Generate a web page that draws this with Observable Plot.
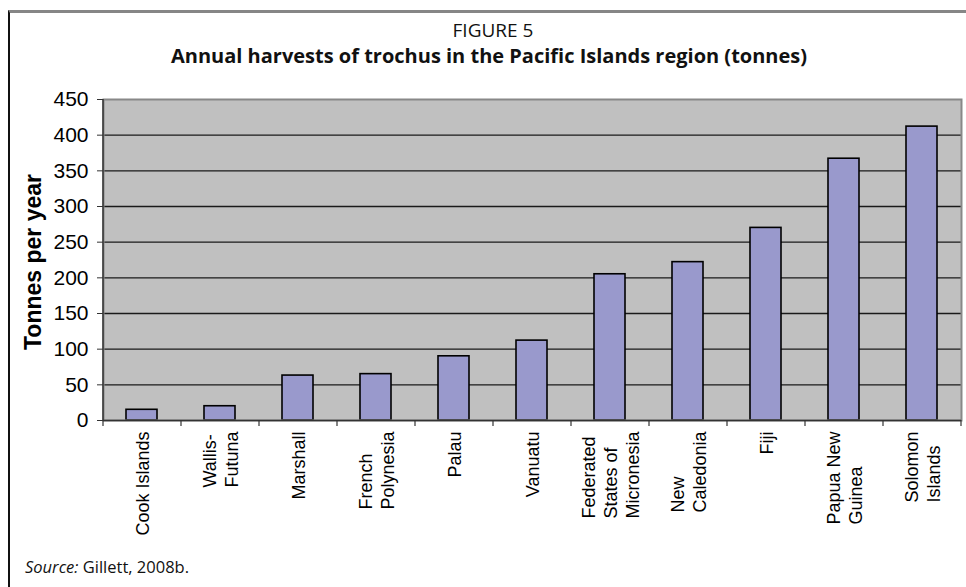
<!DOCTYPE html>
<html>
<head>
<meta charset="utf-8">
<script src="https://cdn.jsdelivr.net/npm/d3@7"></script>
<script src="https://cdn.jsdelivr.net/npm/@observablehq/plot@0.6"></script>
<style>
  html, body { margin: 0; padding: 0; background: #fff; }
  #page { position: relative; width: 966px; height: 587px; overflow: hidden; background: #fff; }
  #frame { position: absolute; left: 8px; top: 10px; right: 0; bottom: -5px;
           border-top: 3px solid #868686; border-left: 2px solid #111; }
  .fig { position: absolute; left: 10px; width: 958px; text-align: center; color: #111;
         font-family: "Open Sans", "Noto Sans", sans-serif; white-space: nowrap; }
  #fignum { top: 19px; font-size: 19px; line-height: 22px; left: 14px; }
  #title { top: 44px; font-size: 20px; line-height: 24px; font-weight: bold; }
  #source { position: absolute; left: 25px; top: 557px; font-family: "Open Sans", "Noto Sans", sans-serif;
            font-size: 16.5px; line-height: 20px; color: #111; }
  #chart { position: absolute; left: 0; top: 80px; }
</style>
</head>
<body>
<div id="page">
  <div id="frame"></div>
  <div class="fig" id="fignum">FIGURE 5</div>
  <div class="fig" id="title">Annual harvests of trochus in the Pacific Islands region (tonnes)</div>
  <div id="chart"></div>
  <div id="source"><i>Source:</i> Gillett, 2008b.</div>
</div>
<script>
// ---- data ----
const categories = ["Cook Islands", "Wallis-Futuna", "Marshall", "French Polynesia", "Palau", "Vanuatu",
  "Federated States of Micronesia", "New Caledonia", "Fiji", "Papua New Guinea", "Solomon Islands"];
const categoryLabels = ["Cook Islands", "Wallis-\nFutuna", "Marshall", "French\nPolynesia", "Palau", "Vanuatu",
  "Federated\nStates of\nMicronesia", "New\nCaledonia", "Fiji", "Papua New\nGuinea", "Solomon\nIslands"];
const harvestTonnes = [15, 20, 63, 65, 90, 112, 205, 222, 270, 367, 412];
const yTicks = [0, 50, 100, 150, 200, 250, 300, 350, 400, 450];
const yAxisLabel = "Tonnes per year";

const data = categories.map((c, i) => ({cat: c, label: categoryLabels[i], value: harvestTonnes[i]}));

// ---- layout ----
const W = 966, H = 470;
const mL = 103, mR = 5, mT = 19, mB = 130;
const step = (W - mL - mR) / categories.length;
const sans = "'Liberation Sans', Arial, sans-serif";

const ctx = document.createElement("canvas").getContext("2d");
ctx.font = `18px ${sans}`;
const maxLen = (s) => Math.max(...s.split("\n").map(l => ctx.measureText(l).width));

const labelMarks = data.map(d => Plot.text([d], {
  x: "cat", text: "label", frameAnchor: "bottom", rotate: -90,
  textAnchor: "start", lineAnchor: "middle", lineHeight: 1.2,
  dy: 11 + maxLen(d.label), fontSize: 18, fontFamily: sans, fill: "#000"
}));

const chart = Plot.plot({
  width: W, height: H,
  marginLeft: mL, marginRight: mR, marginTop: mT, marginBottom: mB,
  style: {fontFamily: sans, color: "#000", background: "transparent"},
  x: {domain: categories, paddingInner: 0.6, paddingOuter: 0.3, axis: null},
  y: {domain: [0, 450], axis: null},
  marks: [
    Plot.frame({fill: "#c0c0c0", stroke: "none"}),
    Plot.gridY(yTicks.filter(t => t > 0 && t < 450), {stroke: "#1a1a1a", strokeOpacity: 1, strokeWidth: 1.3}),
    Plot.barY(data, {x: "cat", y: "value", fill: "#9999cc", stroke: "#000", strokeWidth: 1.6}),
    Plot.frame({stroke: "#888", strokeWidth: 2}),
    Plot.ruleY([0], {stroke: "#333", strokeWidth: 1.5}),
    Plot.ruleX([categories[0]], {dx: -step / 2, stroke: "#333", strokeWidth: 1.5}),
    Plot.ruleX(categories, {x: d => d, dx: step / 2, y1: () => 0, y2: () => 0, insetBottom: -6, stroke: "#333", strokeWidth: 1.2}),
    Plot.ruleX([categories[0]], {x: d => d, dx: -step / 2, y1: () => 0, y2: () => 0, insetBottom: -6, stroke: "#333", strokeWidth: 1.2}),
    Plot.axisY({ticks: yTicks, tickSize: 6, tickPadding: 9, fontSize: 21, label: null, stroke: "#333", fill: "#000"}),
    Plot.text([yAxisLabel], {frameAnchor: "left", dx: -70, dy: 2, rotate: -90, fontWeight: "bold",
      fontSize: 23, textAnchor: "middle", lineAnchor: "middle", fill: "#000"}),
    ...labelMarks
  ]
});
document.getElementById("chart").appendChild(chart);
</script>
</body>
</html>
